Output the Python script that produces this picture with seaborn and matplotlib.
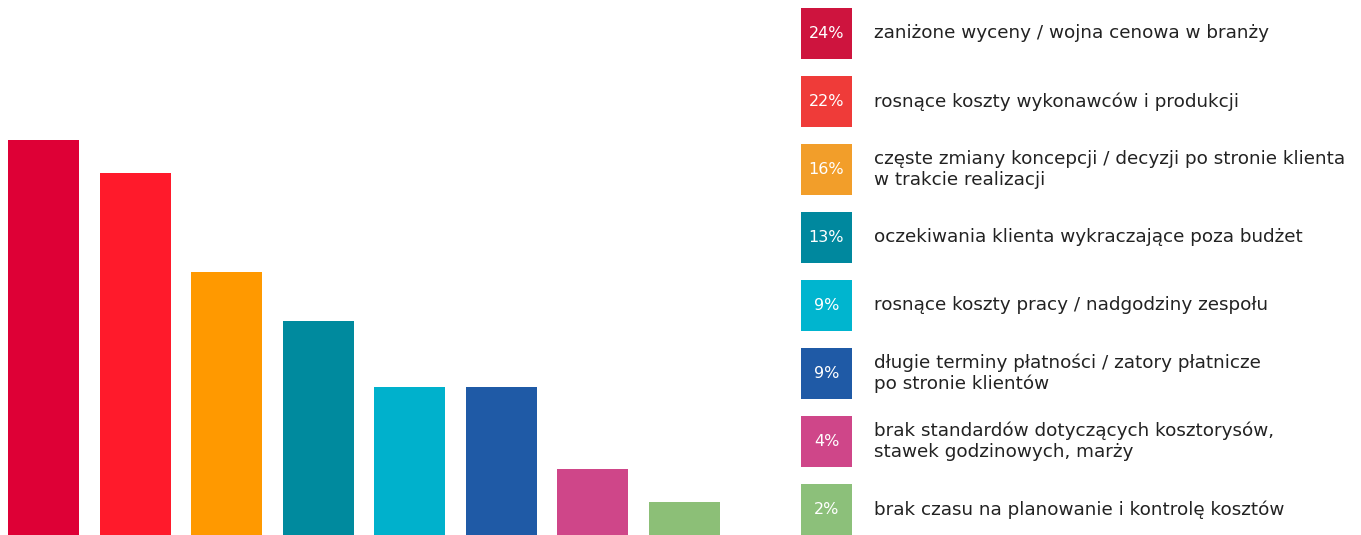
import matplotlib
matplotlib.use("Agg")
import matplotlib.pyplot as plt
from matplotlib.patches import Rectangle
import seaborn as sns
import pandas as pd

# Survey results: main causes of budget pressure
values = [24, 22, 16, 13, 9, 9, 4, 2]
labels = [
    "zaniżone wyceny / wojna cenowa w branży",
    "rosnące koszty wykonawców i produkcji",
    "częste zmiany koncepcji / decyzji po stronie klienta\nw trakcie realizacji",
    "oczekiwania klienta wykraczające poza budżet",
    "rosnące koszty pracy / nadgodziny zespołu",
    "długie terminy płatności / zatory płatnicze\npo stronie klientów",
    "brak standardów dotyczących kosztorysów,\nstawek godzinowych, marży",
    "brak czasu na planowanie i kontrolę kosztów",
]
bar_colors = ["#DE0036", "#FF1A2B", "#FF9900", "#008A9E",
              "#00B1CC", "#1F5AA6", "#CF4689", "#8CBF77"]
key_colors = ["#CE143E", "#EF3B39", "#F29E2A", "#00889E",
              "#00B5CF", "#1F5AA6", "#CF4689", "#8CC07A"]

sns.set_theme(style="white")
plt.rcParams["font.family"] = ["DejaVu Sans"]

W, H = 1361, 535
fig = plt.figure(figsize=(W / 100, H / 100), dpi=100)

# Bar panel on the left
ax = fig.add_axes([0, 0, 730 / W, 1])
df = pd.DataFrame({"cat": [str(i) for i in range(len(values))], "val": values})
sns.barplot(data=df, x="cat", y="val", hue="cat", palette=bar_colors,
            width=0.775, legend=False, ax=ax, saturation=1, linewidth=0)
ax.set_xlim(-0.475, -0.475 + 730 / 91.57)
ax.set_ylim(0, 24 * 535 / 395)
ax.axis("off")

# Key with percentages and descriptions on the right
sq = 51
for i, (v, lab, c) in enumerate(zip(values, labels, key_colors)):
    top = 8 + 68 * i
    x0 = 801
    fig.patches.append(Rectangle((x0 / W, 1 - (top + sq) / H), sq / W, sq / H,
                                 transform=fig.transFigure, facecolor=c,
                                 edgecolor="none"))
    cy = 1 - (top + sq / 2) / H
    fig.text((x0 + sq / 2) / W, cy, f"{v}%", color="white", fontsize=11.5,
             ha="center", va="center")
    fig.text(874 / W, cy, lab, color="#222222", fontsize=13.2,
             ha="left", va="center", linespacing=1.2)

fig.savefig("out.png", dpi=100, facecolor="white")
